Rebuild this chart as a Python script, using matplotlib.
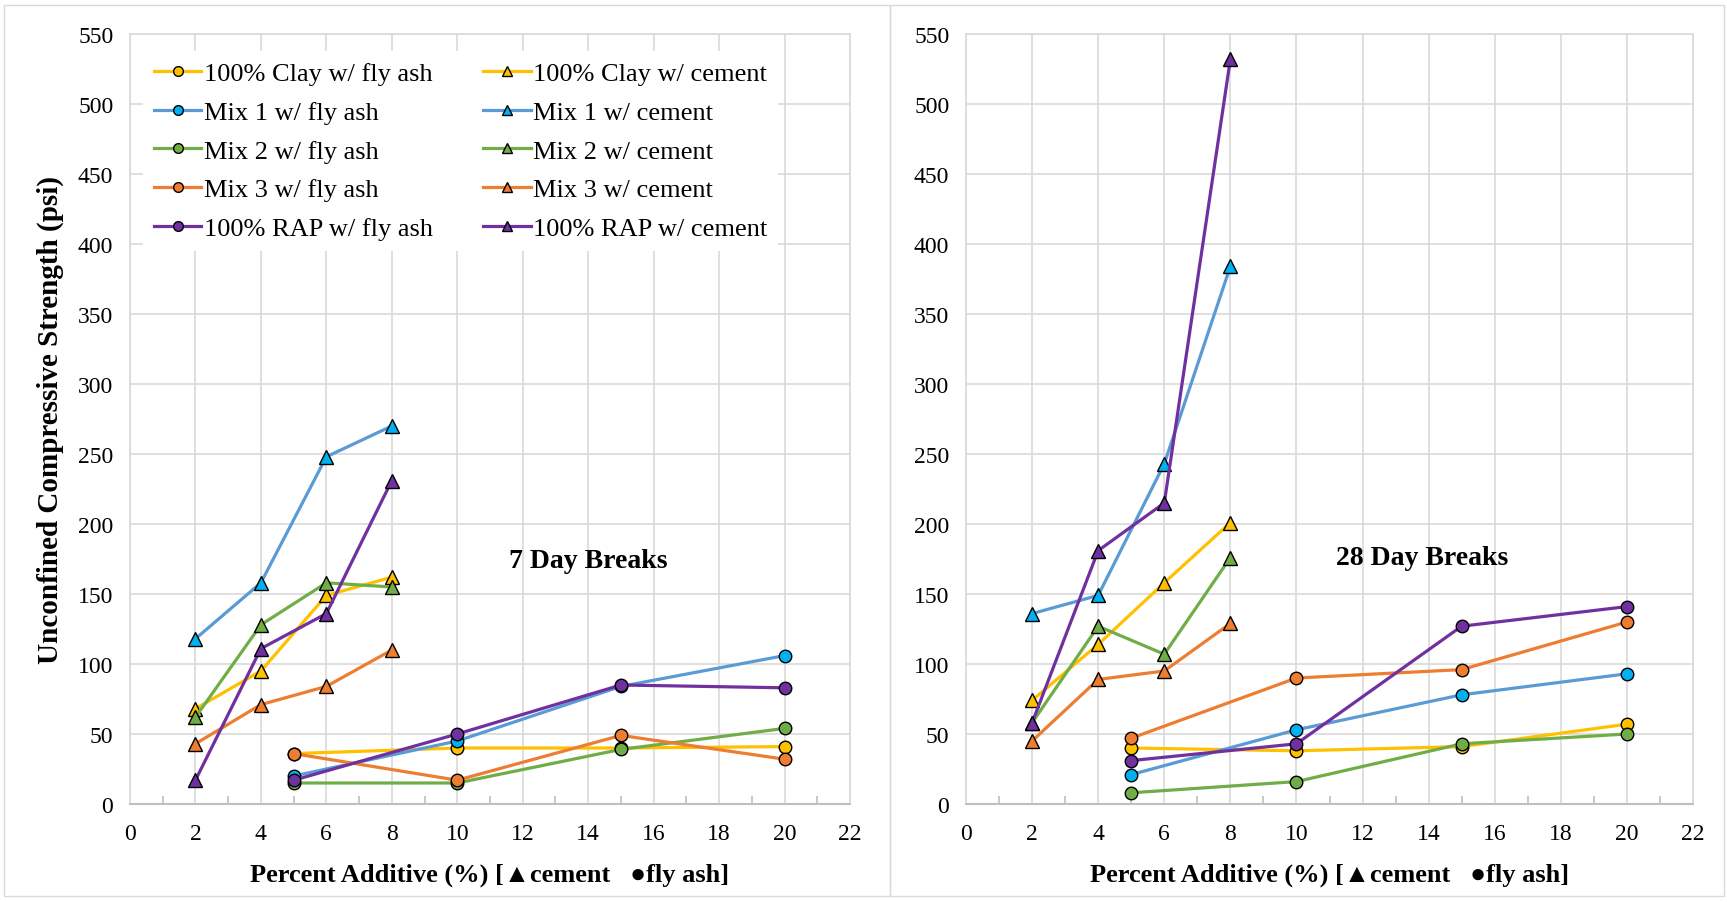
import numpy as np
import matplotlib
matplotlib.use('Agg')
import matplotlib.pyplot as plt
from matplotlib.lines import Line2D
from matplotlib.patches import Rectangle

plt.rcParams['font.family'] = ['Liberation Serif', 'DejaVu Serif']

# --- data -------------------------------------------------------------------
x_cement = [2, 4, 6, 8]
x_flyash = [5, 10, 15, 20]

mixes = ['100% Clay', 'Mix 1', 'Mix 2', 'Mix 3', '100% RAP']

# 7 day breaks
cem_7 = {
    '100% Clay': [68, 95, 149, 162],
    'Mix 1':     [118, 158, 248, 270],
    'Mix 2':     [62, 128, 158, 155],
    'Mix 3':     [43, 71, 84, 110],
    '100% RAP':  [17, 111, 136, 231],
}
fa_7 = {
    '100% Clay': [36, 40, 40, 41],
    'Mix 1':     [20, 45, 84, 106],
    'Mix 2':     [15, 15, 39, 54],
    'Mix 3':     [36, 17, 49, 32],
    '100% RAP':  [17, 50, 85, 83],
}

# 28 day breaks
cem_28 = {
    '100% Clay': [74, 114, 158, 201],
    'Mix 1':     [136, 149, 243, 384],
    'Mix 2':     [58, 127, 107, 176],
    'Mix 3':     [45, 89, 95, 129],
    '100% RAP':  [58, 181, 215, 532],
}
fa_28 = {
    '100% Clay': [40, 38, 41, 57],
    'Mix 1':     [21, 53, 78, 93],
    'Mix 2':     [8, 16, 43, 50],
    'Mix 3':     [47, 90, 96, 130],
    '100% RAP':  [31, 43, 127, 141],
}

line_colors = {'100% Clay': '#FFC000', 'Mix 1': '#5B9BD5', 'Mix 2': '#70AD47',
               'Mix 3': '#ED7D31', '100% RAP': '#7030A0'}
marker_colors = {'100% Clay': '#FFC000', 'Mix 1': '#00B0F0', 'Mix 2': '#70AD47',
                 'Mix 3': '#ED7D31', '100% RAP': '#7030A0'}

W, H = 1727, 903
fig = plt.figure(figsize=(W / 100, H / 100), dpi=100)

# chart borders (two excel charts side by side)
for x0, x1 in [(4, 890), (890, 1724)]:
    fig.add_artist(Rectangle((x0 / W, 6 / H), (x1 - x0) / W, (H - 12) / H,
                             transform=fig.transFigure, fill=False,
                             edgecolor='#d9d9d9', linewidth=1.0))

ax1 = fig.add_axes([130 / W, 1 - 805 / H, 720 / W, 770 / H])
ax2 = fig.add_axes([966 / W, 1 - 805 / H, 727 / W, 770 / H])

grid_c = '#d9d9d9'


def draw(ax, cem, fa, title, tx, ty):
    for m in mixes:
        ax.plot(x_flyash, fa[m], color=line_colors[m], lw=2.3, marker='o', ms=9,
                mfc=marker_colors[m], mec='black', mew=1.0, zorder=3)
    for m in mixes:
        ax.plot(x_cement, cem[m], color=line_colors[m], lw=2.3, marker='^', ms=9.5,
                mfc=marker_colors[m], mec='black', mew=1.0, zorder=3)
    ax.set_xlim(0, 22)
    ax.set_ylim(0, 550)
    ax.set_xticks(np.arange(0, 23, 2))
    ax.set_yticks(np.arange(0, 551, 50))
    ax.set_xticks(np.arange(1, 22, 2), minor=True)
    ax.grid(True, color=grid_c, lw=1.2, zorder=0)
    ax.set_axisbelow(True)
    ax.tick_params(axis='both', which='major', length=0, labelsize=17, pad=12)
    ax.tick_params(axis='x', which='major', pad=14)
    ax.tick_params(axis='x', which='minor', direction='in', length=6,
                   color='#bfbfbf', width=1.2)
    for s in ['left', 'right', 'top']:
        ax.spines[s].set_color(grid_c)
        ax.spines[s].set_linewidth(1.2)
    ax.spines['bottom'].set_color('#bfbfbf')
    ax.spines['bottom'].set_linewidth(1.5)
    ax.text(tx, ty, title, fontsize=20, fontweight='bold', ha='center', va='center')
    ax.set_xlabel('Percent Additive (%) [\u25B2cement   \u25CFfly ash]',
                  fontsize=19, fontweight='bold', labelpad=13)


draw(ax1, cem_7, fa_7, '7 Day Breaks', 14.0, 174)
draw(ax2, cem_28, fa_28, '28 Day Breaks', 13.8, 176)

ax1.set_ylabel('Unconfined Compressive Strength (psi)', fontsize=21,
               fontweight='bold', labelpad=10)

handles = []
labels = []
for kind, mk in [('fly ash', 'o'), ('cement', '^')]:
    for m in mixes:
        handles.append(Line2D([], [], color=line_colors[m], lw=2.3, marker=mk, ms=7,
                              mfc=marker_colors[m], mec='black', mew=1.0))
        labels.append(f'{m} w/ {kind}')

leg = ax1.legend(handles, labels, ncol=2, loc='upper left', bbox_to_anchor=(0.0, 0.995),
                 fontsize=19, frameon=True, fancybox=False, handlelength=1.8,
                 handletextpad=0.1, columnspacing=1.9, labelspacing=0.58,
                 borderpad=0.4)
leg.get_frame().set_facecolor('white')
leg.get_frame().set_edgecolor('none')
leg.get_frame().set_alpha(1.0)
leg.set_zorder(5)

fig.savefig('out.png', dpi=100)
